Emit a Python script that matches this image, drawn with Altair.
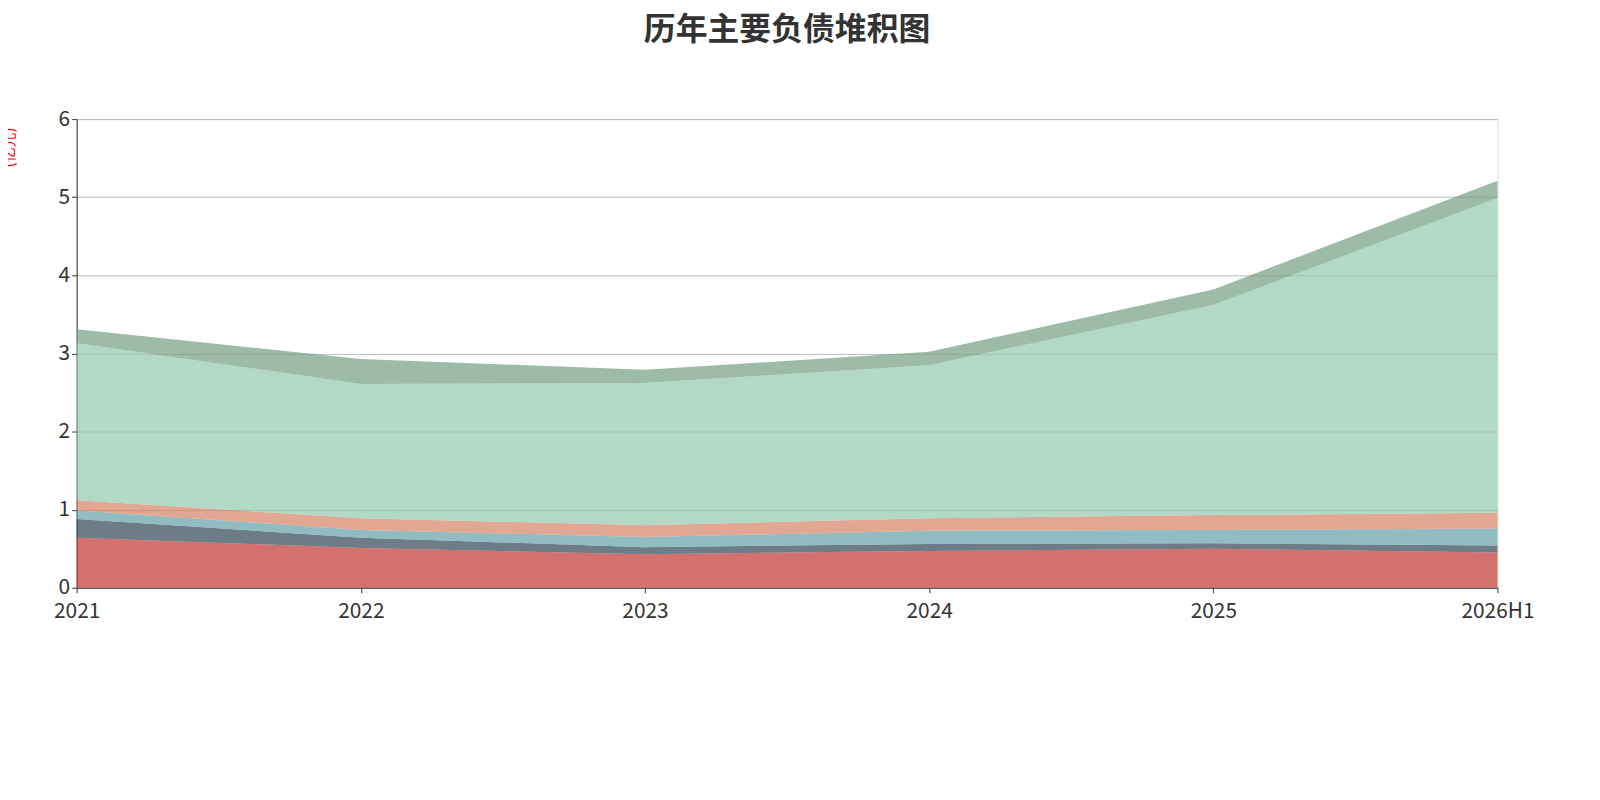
import pandas as pd
import altair as alt

years = ["2021", "2022", "2023", "2024", "2025", "2026H1"]
series = ["租赁负债", "一年内到期的非流动负债", "应交税费", "应付职工薪酬", "应付票据及应付账款", "其它负债"]
colors = ["#c23531", "#2f4554", "#61a0a8", "#d48265", "#91c7ae", "#749f83"]
values = {
    "租赁负债": [0.64, 0.51, 0.43, 0.47, 0.50, 0.45],
    "一年内到期的非流动负债": [0.24, 0.13, 0.09, 0.09, 0.07, 0.09],
    "应交税费": [0.11, 0.10, 0.13, 0.17, 0.17, 0.22],
    "应付职工薪酬": [0.13, 0.15, 0.15, 0.16, 0.19, 0.20],
    "应付票据及应付账款": [2.01, 1.72, 1.82, 1.96, 2.69, 4.03],
    "其它负债": [0.18, 0.32, 0.17, 0.17, 0.20, 0.22],
}

rows = []
for i, s in enumerate(series):
    for y, v in zip(years, values[s]):
        rows.append({"year": y, "name": s, "value": v, "order": i})
df = pd.DataFrame(rows)

area = alt.Chart(df).mark_area(opacity=0.7).encode(
    x=alt.X("year:O", sort=years, scale=alt.Scale(type="point", padding=0),
            axis=alt.Axis(title=None, labelAngle=0, labelFontSize=21, labelColor="#333",
                          domainColor="#333", tickColor="#333", labelPadding=8,
                          labelAlign="center", labelFlush=False)),
    y=alt.Y("value:Q", stack="zero", scale=alt.Scale(domain=[0, 6]),
            axis=alt.Axis(title="(亿元)", titleColor="red", titleFontSize=15, titleFontWeight="normal",
                          titleAngle=-90, titleX=-60, titleY=28, tickCount=6, labelFontSize=21,
                          labelColor="#333", domainColor="#333", tickColor="#333",
                          gridColor="#bbb", domain=True)),
    color=alt.Color("name:N", sort=series, scale=alt.Scale(domain=series, range=colors),
                    legend=alt.Legend(title=None, orient="bottom", direction="horizontal",
                                      symbolType="circle", symbolSize=450, symbolOpacity=1,
                                      labelFontSize=21, labelColor="#333", columnPadding=24,
                                      offset=90, labelLimit=400)),
    order=alt.Order("order:Q"),
)

note = alt.Chart(pd.DataFrame({"t": ["制图数据来自恒生聚源数据库"]})).mark_text(
    fontSize=16, color="#c9962b").encode(
    text="t:N", x=alt.value(707), y=alt.value(655))

chart = (area + note).properties(
    width=1428, height=471,
    autosize=alt.AutoSizeParams(type="none"),
    padding={"left": 69, "top": 110, "right": 95, "bottom": 80},
    title=alt.TitleParams("历年主要负债堆积图", fontSize=32, fontWeight="bold", color="#333", offset=62),
).configure_view(stroke=None).configure(font="Noto Sans CJK SC")

chart.save("out.html", embed_options={"renderer": "svg", "actions": False})
